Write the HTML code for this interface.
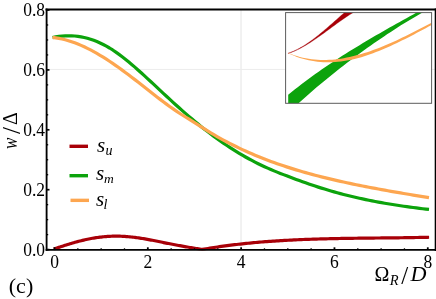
<!DOCTYPE html>
<html><head><meta charset="utf-8"><title>plot</title>
<style>
html,body{margin:0;padding:0;background:#fff;}
body{width:436px;height:299px;overflow:hidden;font-family:"Liberation Serif",serif;}
svg{display:block;will-change:transform}
text{font-family:"Liberation Serif",serif;fill:#000}
</style></head><body>
<svg width="436" height="299" viewBox="0 0 436 299">
<g stroke="#e6e6e6" stroke-width="1" fill="none"><line x1="241.0" y1="9.50" x2="241.0" y2="249.90" stroke="#e4e4e4"/><line x1="46.60" y1="69.45" x2="435.70" y2="69.45" stroke="#ececec"/></g>
<clipPath id="pc"><rect x="46.6" y="9.5" width="389.09999999999997" height="240.9"/></clipPath>
<g fill="none" stroke-linecap="butt" stroke-linejoin="round" clip-path="url(#pc)">
<path d="M53.80,249.06 L55.05,248.64 L56.30,248.22 L57.54,247.81 L58.79,247.39 L60.04,246.98 L61.29,246.57 L62.54,246.16 L63.78,245.75 L65.03,245.35 L66.28,244.95 L67.53,244.56 L68.77,244.17 L70.02,243.79 L71.27,243.41 L72.52,243.04 L73.77,242.68 L75.01,242.33 L76.26,241.98 L77.51,241.64 L78.76,241.31 L80.01,240.99 L81.25,240.68 L82.50,240.37 L83.75,240.08 L85.00,239.80 L86.25,239.52 L87.49,239.26 L88.74,239.01 L89.99,238.76 L91.24,238.53 L92.48,238.30 L93.73,238.09 L94.98,237.89 L96.23,237.70 L97.48,237.51 L98.72,237.34 L99.97,237.18 L101.22,237.04 L102.47,236.90 L103.72,236.77 L104.96,236.66 L106.21,236.56 L107.46,236.46 L108.71,236.38 L109.96,236.32 L111.20,236.26 L112.45,236.22 L113.70,236.19 L114.95,236.17 L116.19,236.16 L117.44,236.17 L118.69,236.19 L119.94,236.22 L121.19,236.26 L122.43,236.31 L123.68,236.38 L124.93,236.45 L126.18,236.54 L127.43,236.63 L128.67,236.74 L129.92,236.85 L131.17,236.98 L132.42,237.11 L133.67,237.26 L134.91,237.41 L136.16,237.57 L137.41,237.74 L138.66,237.92 L139.91,238.10 L141.15,238.30 L142.40,238.50 L143.65,238.70 L144.90,238.92 L146.14,239.13 L147.39,239.36 L148.64,239.59 L149.89,239.82 L151.14,240.06 L152.38,240.30 L153.63,240.55 L154.88,240.79 L156.13,241.04 L157.38,241.29 L158.62,241.54 L159.87,241.80 L161.12,242.05 L162.37,242.30 L163.62,242.56 L164.86,242.81 L166.11,243.06 L167.36,243.31 L168.61,243.55 L169.85,243.80 L171.10,244.04 L172.35,244.28 L173.60,244.52 L174.85,244.76 L176.09,245.00 L177.34,245.23 L178.59,245.46 L179.84,245.69 L181.09,245.92 L182.33,246.15 L183.58,246.37 L184.83,246.59 L186.08,246.81 L187.33,247.03 L188.57,247.25 L189.82,247.46 L191.07,247.67 L192.32,247.88 L193.56,248.08 L194.81,248.28 L196.06,248.48 L197.31,248.68 L198.56,248.87 L199.80,249.07 L201.05,249.26 L202.30,249.44 L204.21,249.09 L206.11,248.77 L208.02,248.46 L209.92,248.15 L211.83,247.85 L213.74,247.55 L215.64,247.26 L217.55,246.98 L219.45,246.70 L221.36,246.43 L223.26,246.17 L225.17,245.91 L227.08,245.66 L228.98,245.41 L230.89,245.17 L232.79,244.93 L234.70,244.70 L236.61,244.48 L238.51,244.26 L240.42,244.04 L242.32,243.84 L244.23,243.63 L246.14,243.43 L248.04,243.24 L249.95,243.05 L251.85,242.87 L253.76,242.69 L255.66,242.52 L257.57,242.35 L259.48,242.18 L261.38,242.02 L263.29,241.87 L265.19,241.72 L267.10,241.57 L269.01,241.43 L270.91,241.29 L272.82,241.16 L274.72,241.03 L276.63,240.90 L278.54,240.78 L280.44,240.66 L282.35,240.55 L284.25,240.44 L286.16,240.33 L288.06,240.23 L289.97,240.13 L291.88,240.03 L293.78,239.94 L295.69,239.85 L297.59,239.76 L299.50,239.68 L301.41,239.59 L303.31,239.52 L305.22,239.44 L307.12,239.37 L309.03,239.30 L310.94,239.23 L312.84,239.17 L314.75,239.11 L316.65,239.05 L318.56,238.99 L320.46,238.94 L322.37,238.88 L324.28,238.83 L326.18,238.79 L328.09,238.74 L329.99,238.70 L331.90,238.65 L333.81,238.61 L335.71,238.57 L337.62,238.54 L339.52,238.50 L341.43,238.47 L343.34,238.43 L345.24,238.40 L347.15,238.37 L349.05,238.34 L350.96,238.32 L352.86,238.29 L354.77,238.26 L356.68,238.24 L358.58,238.21 L360.49,238.19 L362.39,238.17 L364.30,238.15 L366.21,238.13 L368.11,238.10 L370.02,238.08 L371.92,238.06 L373.83,238.04 L375.74,238.02 L377.64,238.00 L379.55,237.99 L381.45,237.97 L383.36,237.95 L385.26,237.93 L387.17,237.91 L389.08,237.89 L390.98,237.86 L392.89,237.84 L394.79,237.82 L396.70,237.80 L398.61,237.78 L400.51,237.75 L402.42,237.73 L404.32,237.70 L406.23,237.67 L408.14,237.65 L410.04,237.62 L411.95,237.59 L413.85,237.56 L415.76,237.52 L417.66,237.49 L419.57,237.45 L421.48,237.42 L423.38,237.38 L425.29,237.34 L427.19,237.29 L429.10,237.25" stroke="#a80008" stroke-width="3.2" stroke-linejoin="miter"/>
<path d="M52.60,37.56 L55.76,36.94 L58.93,36.44 L62.09,36.08 L65.25,35.86 L68.42,35.77 L71.58,35.83 L74.74,36.02 L77.90,36.36 L81.07,36.86 L84.23,37.50 L87.39,38.29 L90.56,39.22 L93.72,40.31 L96.88,41.55 L100.05,42.94 L103.21,44.48 L106.37,46.16 L109.53,48.00 L112.70,49.98 L115.86,52.10 L119.02,54.35 L122.19,56.72 L125.35,59.19 L128.51,61.76 L131.68,64.41 L134.84,67.14 L138.00,69.93 L141.16,72.78 L144.33,75.66 L147.49,78.57 L150.65,81.51 L153.82,84.45 L156.98,87.41 L160.14,90.36 L163.31,93.31 L166.47,96.25 L169.63,99.17 L172.79,102.08 L175.96,104.96 L179.12,107.81 L182.28,110.62 L185.45,113.40 L188.61,116.13 L191.77,118.83 L194.94,121.48 L198.10,124.08 L201.26,126.64 L204.43,129.15 L207.59,131.61 L210.75,134.01 L213.91,136.37 L217.08,138.67 L220.24,140.92 L223.40,143.12 L226.57,145.26 L229.73,147.35 L232.89,149.39 L236.06,151.37 L239.22,153.30 L242.38,155.17 L245.54,156.99 L248.71,158.75 L251.87,160.46 L255.03,162.11 L258.20,163.71 L261.36,165.25 L264.52,166.73 L267.69,168.15 L270.85,169.52 L274.01,170.85 L277.17,172.14 L280.34,173.39 L283.50,174.62 L286.66,175.83 L289.83,177.02 L292.99,178.20 L296.15,179.38 L299.32,180.54 L302.48,181.69 L305.64,182.82 L308.81,183.93 L311.97,185.01 L315.13,186.07 L318.29,187.11 L321.46,188.11 L324.62,189.09 L327.78,190.05 L330.95,190.97 L334.11,191.87 L337.27,192.75 L340.44,193.60 L343.60,194.43 L346.76,195.23 L349.92,196.02 L353.09,196.77 L356.25,197.51 L359.41,198.22 L362.58,198.92 L365.74,199.59 L368.90,200.24 L372.07,200.88 L375.23,201.49 L378.39,202.08 L381.55,202.66 L384.72,203.22 L387.88,203.76 L391.04,204.29 L394.21,204.79 L397.37,205.29 L400.53,205.76 L403.70,206.23 L406.86,206.67 L410.02,207.11 L413.18,207.53 L416.35,207.94 L419.51,208.33 L422.67,208.72 L425.84,209.09 L429.00,209.45" stroke="#0ca30c" stroke-width="3.2"/>
<path d="M52.60,37.43 L55.76,37.83 L58.93,38.36 L62.09,39.02 L65.25,39.79 L68.42,40.69 L71.58,41.70 L74.74,42.82 L77.90,44.04 L81.07,45.37 L84.23,46.80 L87.39,48.32 L90.56,49.93 L93.72,51.62 L96.88,53.40 L100.05,55.26 L103.21,57.19 L106.37,59.19 L109.53,61.25 L112.70,63.38 L115.86,65.56 L119.02,67.80 L122.19,70.09 L125.35,72.42 L128.51,74.79 L131.68,77.20 L134.84,79.64 L138.00,82.11 L141.16,84.58 L144.33,87.07 L147.49,89.56 L150.65,92.04 L153.82,94.51 L156.98,96.96 L160.14,99.38 L163.31,101.77 L166.47,104.12 L169.63,106.42 L172.79,108.67 L175.96,110.86 L179.12,112.98 L182.28,115.02 L185.45,117.01 L188.61,118.96 L191.77,120.92 L194.94,122.90 L198.10,124.92 L201.26,126.94 L204.43,128.95 L207.59,130.91 L210.75,132.83 L213.91,134.70 L217.08,136.53 L220.24,138.31 L223.40,140.04 L226.57,141.73 L229.73,143.39 L232.89,145.00 L236.06,146.56 L239.22,148.09 L242.38,149.58 L245.54,151.04 L248.71,152.45 L251.87,153.83 L255.03,155.18 L258.20,156.49 L261.36,157.76 L264.52,159.01 L267.69,160.22 L270.85,161.40 L274.01,162.55 L277.17,163.68 L280.34,164.77 L283.50,165.84 L286.66,166.88 L289.83,167.89 L292.99,168.89 L296.15,169.85 L299.32,170.80 L302.48,171.72 L305.64,172.62 L308.81,173.50 L311.97,174.36 L315.13,175.21 L318.29,176.03 L321.46,176.84 L324.62,177.63 L327.78,178.41 L330.95,179.17 L334.11,179.91 L337.27,180.64 L340.44,181.36 L343.60,182.06 L346.76,182.75 L349.92,183.42 L353.09,184.09 L356.25,184.74 L359.41,185.38 L362.58,186.01 L365.74,186.63 L368.90,187.25 L372.07,187.85 L375.23,188.44 L378.39,189.03 L381.55,189.60 L384.72,190.17 L387.88,190.74 L391.04,191.30 L394.21,191.85 L397.37,192.39 L400.53,192.94 L403.70,193.47 L406.86,194.01 L410.02,194.54 L413.18,195.07 L416.35,195.60 L419.51,196.12 L422.67,196.64 L425.84,197.17 L429.00,197.69" stroke="#fda650" stroke-width="3.2"/>
</g>
<!-- inset -->
<rect x="285.6" y="12.6" width="146.0" height="90.7" fill="#fff"/>
<clipPath id="ic"><rect x="285.6" y="12.6" width="146.0" height="90.7"/></clipPath>
<g clip-path="url(#ic)">
<path d="M288.10,53.19 L289.71,52.66 L291.33,52.06 L292.94,51.41 L294.55,50.71 L296.16,49.95 L297.78,49.14 L299.39,48.28 L301.00,47.37 L302.62,46.42 L304.23,45.43 L305.84,44.39 L307.45,43.32 L309.07,42.21 L310.68,41.06 L312.29,39.88 L313.91,38.67 L315.52,37.43 L317.13,36.17 L318.74,34.88 L320.36,33.57 L321.97,32.24 L323.58,30.88 L325.19,29.52 L326.81,28.13 L328.42,26.74 L330.03,25.33 L331.65,23.92 L333.26,22.49 L334.87,21.07 L336.48,19.64 L338.10,18.21 L339.71,16.78 L341.32,15.36 L342.94,13.94 L344.55,12.53 L346.16,11.13 L347.77,9.74 L349.39,8.36 L351.00,7.00 L359.00,9.20 L357.18,10.20 L355.36,11.23 L353.55,12.31 L351.73,13.43 L349.91,14.57 L348.09,15.76 L346.27,16.97 L344.46,18.20 L342.64,19.46 L340.82,20.74 L339.00,22.03 L337.18,23.34 L335.37,24.66 L333.55,25.99 L331.73,27.33 L329.91,28.67 L328.09,30.00 L326.28,31.34 L324.46,32.66 L322.64,33.98 L320.82,35.29 L319.01,36.58 L317.19,37.85 L315.37,39.11 L313.55,40.34 L311.73,41.54 L309.92,42.72 L308.10,43.86 L306.28,44.96 L304.46,46.03 L302.64,47.06 L300.83,48.04 L299.01,48.98 L297.19,49.86 L295.37,50.70 L293.55,51.48 L291.74,52.20 L289.92,52.86 L288.10,53.45 Z" fill="#a80008" stroke="#a80008" stroke-width="0.35"/>
<path d="M288.20,94.79 L291.58,92.03 L294.96,89.32 L298.34,86.65 L301.72,84.04 L305.10,81.48 L308.48,78.96 L311.86,76.48 L315.24,74.05 L318.62,71.65 L321.99,69.30 L325.37,66.98 L328.75,64.69 L332.13,62.44 L335.51,60.22 L338.89,58.03 L342.27,55.87 L345.65,53.73 L349.03,51.62 L352.41,49.53 L355.79,47.46 L359.17,45.41 L362.55,43.37 L365.93,41.35 L369.31,39.34 L372.69,37.35 L376.07,35.36 L379.45,33.39 L382.83,31.41 L386.21,29.45 L389.58,27.48 L392.96,25.63 L396.34,23.78 L399.72,21.94 L403.10,20.09 L406.48,18.23 L409.86,16.37 L413.24,14.45 L416.62,12.44 L420.00,10.42 L428.00,9.23 L424.62,11.25 L421.23,13.29 L417.85,15.28 L414.46,17.26 L411.08,19.25 L407.69,21.26 L404.31,23.28 L400.92,25.33 L397.54,27.47 L394.15,29.67 L390.77,31.88 L387.38,34.12 L384.00,36.38 L380.62,38.67 L377.23,40.98 L373.85,43.32 L370.46,45.68 L367.08,48.08 L363.69,50.51 L360.31,52.96 L356.92,55.44 L353.54,57.95 L350.15,60.49 L346.77,63.06 L343.38,65.66 L340.00,68.29 L336.62,70.95 L333.23,73.65 L329.85,76.38 L326.46,79.14 L323.08,81.93 L319.69,84.76 L316.31,87.62 L312.92,90.52 L309.54,93.46 L306.15,96.43 L302.77,99.44 L299.38,102.48 L296.00,105.57 L288.20,110.00 Z" fill="#0ca30c"/>
<path d="M288.20,52.95 L291.13,54.11 L294.05,55.16 L296.98,56.10 L299.91,56.92 L302.83,57.66 L305.76,58.28 L308.69,58.81 L311.61,59.23 L314.54,59.56 L317.47,59.79 L320.39,59.93 L323.32,60.00 L326.24,59.97 L329.17,59.86 L332.10,59.67 L335.02,59.40 L337.95,59.05 L340.88,58.63 L343.80,58.16 L346.73,57.62 L349.66,57.01 L352.58,56.33 L355.51,55.59 L358.44,54.78 L361.36,53.94 L364.29,53.06 L367.22,52.13 L370.14,51.15 L373.07,50.12 L376.00,49.03 L378.92,47.91 L381.85,46.74 L384.78,45.53 L387.70,44.29 L390.63,43.02 L393.56,41.71 L396.48,40.38 L399.41,39.01 L402.33,37.62 L405.26,36.20 L408.19,34.76 L411.11,33.30 L414.04,31.81 L416.97,30.31 L419.89,28.80 L422.82,27.27 L425.75,25.73 L428.67,24.19 L431.60,22.65 L431.60,25.05 L428.67,26.62 L425.75,28.19 L422.82,29.75 L419.89,31.30 L416.97,32.85 L414.04,34.38 L411.11,35.89 L408.19,37.39 L405.26,38.88 L402.33,40.34 L399.41,41.78 L396.48,43.19 L393.56,44.58 L390.63,45.93 L387.70,47.25 L384.78,48.53 L381.85,49.76 L378.92,50.96 L376.00,52.11 L373.07,53.21 L370.14,54.27 L367.22,55.28 L364.29,56.23 L361.36,57.13 L358.44,57.95 L355.51,58.70 L352.58,59.38 L349.66,60.00 L346.73,60.55 L343.80,61.03 L340.88,61.45 L337.95,61.77 L335.02,62.00 L332.10,62.16 L329.17,62.23 L326.24,62.22 L323.32,62.13 L320.39,61.95 L317.47,61.67 L314.54,61.29 L311.61,60.81 L308.69,60.24 L305.76,59.57 L302.83,58.80 L299.91,57.92 L296.98,56.92 L294.05,55.81 L291.13,54.58 L288.20,53.25 Z" fill="#fda650"/>
</g>
<rect x="285.6" y="12.6" width="146.0" height="90.7" fill="none" stroke="#5c5c5c" stroke-width="1"/>
<!-- frame -->
<g stroke="#000" stroke-width="1.6" fill="none"><line x1="54.50" y1="249.90" x2="54.50" y2="247.30" stroke-width="1.8"/><line x1="77.83" y1="249.90" x2="77.83" y2="248.30" stroke-width="1.3"/><line x1="101.16" y1="249.90" x2="101.16" y2="248.30" stroke-width="1.3"/><line x1="124.49" y1="249.90" x2="124.49" y2="248.30" stroke-width="1.3"/><line x1="147.82" y1="249.90" x2="147.82" y2="247.30" stroke-width="1.8"/><line x1="171.15" y1="249.90" x2="171.15" y2="248.30" stroke-width="1.3"/><line x1="194.48" y1="249.90" x2="194.48" y2="248.30" stroke-width="1.3"/><line x1="217.81" y1="249.90" x2="217.81" y2="248.30" stroke-width="1.3"/><line x1="241.14" y1="249.90" x2="241.14" y2="247.30" stroke-width="1.8"/><line x1="264.47" y1="249.90" x2="264.47" y2="248.30" stroke-width="1.3"/><line x1="287.80" y1="249.90" x2="287.80" y2="248.30" stroke-width="1.3"/><line x1="311.13" y1="249.90" x2="311.13" y2="248.30" stroke-width="1.3"/><line x1="334.46" y1="249.90" x2="334.46" y2="247.30" stroke-width="1.8"/><line x1="357.79" y1="249.90" x2="357.79" y2="248.30" stroke-width="1.3"/><line x1="381.12" y1="249.90" x2="381.12" y2="248.30" stroke-width="1.3"/><line x1="404.45" y1="249.90" x2="404.45" y2="248.30" stroke-width="1.3"/><line x1="427.78" y1="249.90" x2="427.78" y2="247.30" stroke-width="1.8"/><line x1="46.60" y1="249.60" x2="49.50" y2="249.60" stroke-width="1.7"/><line x1="46.60" y1="234.62" x2="48.20" y2="234.62" stroke-width="1.3"/><line x1="46.60" y1="219.65" x2="48.20" y2="219.65" stroke-width="1.3"/><line x1="46.60" y1="204.67" x2="48.20" y2="204.67" stroke-width="1.3"/><line x1="46.60" y1="189.70" x2="49.50" y2="189.70" stroke-width="1.7"/><line x1="46.60" y1="174.72" x2="48.20" y2="174.72" stroke-width="1.3"/><line x1="46.60" y1="159.75" x2="48.20" y2="159.75" stroke-width="1.3"/><line x1="46.60" y1="144.77" x2="48.20" y2="144.77" stroke-width="1.3"/><line x1="46.60" y1="129.80" x2="49.50" y2="129.80" stroke-width="1.7"/><line x1="46.60" y1="114.82" x2="48.20" y2="114.82" stroke-width="1.3"/><line x1="46.60" y1="99.85" x2="48.20" y2="99.85" stroke-width="1.3"/><line x1="46.60" y1="84.87" x2="48.20" y2="84.87" stroke-width="1.3"/><line x1="46.60" y1="69.90" x2="49.50" y2="69.90" stroke-width="1.7"/><line x1="46.60" y1="54.92" x2="48.20" y2="54.92" stroke-width="1.3"/><line x1="46.60" y1="39.95" x2="48.20" y2="39.95" stroke-width="1.3"/><line x1="46.60" y1="24.97" x2="48.20" y2="24.97" stroke-width="1.3"/><line x1="46.60" y1="10.00" x2="49.50" y2="10.00" stroke-width="1.7"/></g>
<g stroke="#000" stroke-linecap="square" fill="none">
<line x1="46.6" y1="9.5" x2="435.7" y2="9.5" stroke-width="2.1"/>
<line x1="46.6" y1="249.9" x2="435.7" y2="249.9" stroke-width="1.9"/>
<line x1="46.6" y1="9.5" x2="46.6" y2="249.9" stroke-width="1.85"/>
<line x1="435.7" y1="9.5" x2="435.7" y2="249.9" stroke-width="2.0"/>
</g>
<g><g font-size="17.5px"><text transform="translate(54.50,267.7) scale(1,1.06)" text-anchor="middle">0</text><text transform="translate(147.82,267.7) scale(1,1.06)" text-anchor="middle">2</text><text transform="translate(241.14,267.7) scale(1,1.06)" text-anchor="middle">4</text><text transform="translate(334.46,267.7) scale(1,1.06)" text-anchor="middle">6</text><text transform="translate(427.78,267.7) scale(1,1.06)" text-anchor="middle">8</text><text transform="translate(45,255.90) scale(1,1.06)" text-anchor="end">0.0</text><text transform="translate(45,196.00) scale(1,1.06)" text-anchor="end">0.2</text><text transform="translate(45,136.10) scale(1,1.06)" text-anchor="end">0.4</text><text transform="translate(45,76.20) scale(1,1.06)" text-anchor="end">0.6</text><text transform="translate(45,16.30) scale(1,1.06)" text-anchor="end">0.8</text></g>
<!-- legend -->
<g stroke-width="3.4" fill="none">
<line x1="69.5" y1="146.3" x2="88" y2="146.3" stroke="#a80008"/>
<line x1="69.5" y1="175.7" x2="88" y2="175.7" stroke="#0ca30c"/>
<line x1="70.5" y1="200.35" x2="89" y2="200.35" stroke="#fda650"/>
</g>
<g font-size="21px" font-style="italic">
<text x="97" y="152">s<tspan font-size="14px" dy="3" dx="0.3">u</tspan></text>
<text x="96" y="180">s<tspan font-size="13.5px" dy="2.5" dx="-0.3">m</tspan></text>
<text x="96" y="206">s<tspan font-size="14px" dy="3" dx="-0.8">l</tspan></text>
</g>
<text x="8.8" y="293.2" font-size="22px">(c)</text>
<text x="374.5" y="281" font-size="20px">Ω</text>
<text x="389.8" y="284.7" font-size="14.5px" font-style="italic">R</text>
<text x="401.2" y="284.4" font-size="25px">/</text>
<text x="0" y="0" font-size="20.5px" font-style="italic" transform="translate(410.4,281) scale(1.08,1)">D</text>
<g transform="translate(17,0) rotate(-90)" font-size="20px" text-anchor="middle">
<text x="-143.4" y="0" font-style="italic" transform="translate(-143.4,0) scale(0.85,1) translate(143.4,0)">w</text>
<text x="-130.5" y="3" font-size="25px">/</text>
<text x="-118.5" y="0">Δ</text>
</g>
</g>
</svg>
</body></html>
